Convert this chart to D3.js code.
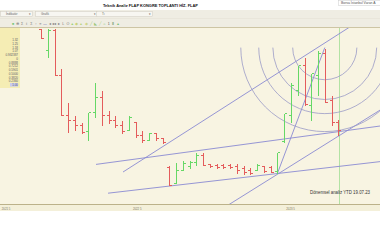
<!DOCTYPE html>
<html>
<head>
<meta charset="utf-8">
<script src="https://cdn.jsdelivr.net/npm/d3@7"></script>
<style>
  body { margin: 0; background: #fff; overflow: hidden; }
  text { font-family: "Liberation Sans", Arial, sans-serif; }
</style>
</head>
<body>
<svg id="chart"></svg>
<script>
// OHLC values (one bar per period)
const opens  = [4.38, 3.85, 4.35, 3.23, 2.23, 2.10, 1.98, 1.83, 2.30, 2.68, 2.23, 2.10, 1.98, 1.85, 2.05,
                1.73, 1.60, 1.78, 1.65, 0.93, 0.53, 0.85, 0.95, 1.05, 1.23, 1.00, 0.98, 0.98, 0.98, 0.95,
                0.90, 0.85, 0.85, 0.95, 0.93, 0.83, 1.58, 2.23, 2.85, 3.48, 2.48, 3.23, 3.78, 2.60, 2.05];
const highs  = [4.38, 4.40, 4.40, 3.40, 2.56, 2.23, 2.06, 2.31, 3.05, 2.85, 2.35, 2.23, 2.10, 2.23, 2.06,
                1.85, 1.81, 1.81, 1.68, 0.98, 1.06, 1.10, 1.10, 1.31, 1.31, 1.03, 1.02, 1.02, 1.03, 1.02,
                0.98, 0.93, 1.03, 0.98, 0.98, 1.31, 2.27, 3.06, 3.48, 3.68, 3.27, 3.85, 3.91, 2.73, 2.13];
const lows   = [4.15, 3.68, 3.23, 2.23, 1.81, 1.85, 1.78, 1.60, 2.18, 1.98, 2.02, 1.93, 1.78, 1.85, 1.68,
                1.56, 1.60, 1.60, 1.53, 0.48, 0.52, 0.85, 0.89, 0.98, 0.98, 0.93, 0.91, 0.89, 0.89, 0.78,
                0.75, 0.75, 0.85, 0.81, 0.81, 0.77, 1.56, 2.06, 2.73, 2.48, 2.10, 2.73, 2.56, 1.98, 1.73];
const closes = [4.15, 4.35, 3.23, 2.23, 2.10, 1.98, 1.81, 2.31, 2.68, 2.23, 2.10, 1.98, 1.83, 2.18, 1.73,
                1.60, 1.78, 1.64, 1.56, 0.48, 0.85, 1.03, 1.06, 1.23, 0.98, 0.96, 0.93, 0.93, 0.92, 0.85,
                0.81, 0.78, 0.98, 0.83, 0.81, 1.29, 2.27, 2.98, 3.48, 2.49, 3.27, 3.77, 2.56, 2.04, 1.85];

// drawn trend lines: [bar index, price] -> [bar index, price]
const trendLines = [
  [[8.14, 0.99], [50.2, 1.95]],
  [[9.92, 0.27], [50.2, 1.06]],
  [[12.14, 0.80], [47.5, 4.62]],
  [[27.67, -0.03], [50.2, 2.35]],
  [[35, 0.77], [42, 3.91]]
];

// fibonacci arcs
const fibCenter = [42, 3.91];
const fibTargetPrice = 1.81;
const fibLevels = [0.382, 0.618, 0.786, 1];

const markerIndex = 44;
const noteText = "Dönemsel analiz YTD 19.07.23";

const tickIndex = [-5.8, 13.6, 36.3];
const tickLabels = ["2021 5", "2022 5", "2023 5"];

const levelLabels = ["1.32", "1.25", "1.18", "1.07", "0.932387", "0", "0.8888", "0.7212",
                     "0.5901", "0.5000", "0.3820", "0.2360", "1.00"];

const titleText = "Teknik Analiz FLAP KONGRE TOPLANTI HİZ. FLAP";
const sourceText = "Borsa İstanbul Varan A";

const W = 380, H = 240;
const chartTop = 28, chartBottom = 204;

const RED = "#e45c5c", GREEN = "#66d866", LINE = "#8a8ad2";

const svg = d3.select("#chart").attr("width", W).attr("height", H);

svg.append("rect").attr("width", W).attr("height", H).attr("fill", "#fff");

// title row
svg.append("text")
  .attr("x", 103).attr("y", 7)
  .attr("font-size", 4.2).attr("font-weight", "bold").attr("fill", "#111")
  .attr("textLength", 95).attr("lengthAdjust", "spacingAndGlyphs")
  .text(titleText);

svg.append("rect")
  .attr("x", 338.5).attr("y", 0.5).attr("width", 44).attr("height", 5)
  .attr("fill", "#fff").attr("stroke", "#ccc").attr("stroke-width", 0.5);
svg.append("text")
  .attr("x", 341).attr("y", 4)
  .attr("font-size", 3.4).attr("fill", "#555")
  .text(sourceText);

// toolbar
svg.append("rect").attr("x", 0).attr("y", 10).attr("width", W).attr("height", 18).attr("fill", "#efede3");
svg.append("line").attr("x1", 0).attr("x2", W).attr("y1", 18.5).attr("y2", 18.5)
  .attr("stroke", "#e2dfd2").attr("stroke-width", 0.5);

const dropdowns = [[0, 33, "İndikatör"], [35, 98, "Grafik"], [96, 153, "Tı"]];
dropdowns.forEach(([x0, x1, label]) => {
  svg.append("rect")
    .attr("x", x0 + 0.5).attr("y", 11.5).attr("width", x1 - x0 - 1).attr("height", 5)
    .attr("fill", "#f7f6f1").attr("stroke", "#cfccc0").attr("stroke-width", 0.5);
  svg.append("text").attr("x", x0 + 6).attr("y", 15.3).attr("font-size", 3).attr("fill", "#666").text(label);
  svg.append("text").attr("x", x1 - 3).attr("y", 15.3).attr("font-size", 3)
    .attr("text-anchor", "middle").attr("fill", "#555").text("▾");
});

const iconGlyphs = ["■", "⊕", "Σ", "ℓ", "Σ", "↑", "≡", "—", "◂", "◂◂", "▸", "L", "O", "▲", "◆", "▴", "◆", "╱", "◣", "╱", "⌂", "1", "Ⅱ", "▲"];
const iconColors = ["#79c779", "#777", "#777", "#777", "#777", "#777", "#777", "#4a4aa0", "#777", "#777", "#777", "#777", "#777",
                    "#9cd27a", "#c9d27a", "#b8d27a", "#cfd68c", "#9cc87a", "#9cc87a", "#a8d27a", "#8cc87a", "#555", "#4a8a4a", "#7ac27a"];
const iconX = d3.scaleLinear().domain([0, iconGlyphs.length - 1]).range([13, 118]);
iconGlyphs.forEach((g, i) => {
  svg.append("text")
    .attr("x", iconX(i)).attr("y", 25)
    .attr("font-size", 3.6).attr("text-anchor", "middle")
    .attr("fill", iconColors[i]).text(g);
});

svg.append("line").attr("x1", 0).attr("x2", W).attr("y1", 27.5).attr("y2", 27.5)
  .attr("stroke", "#cdc5a4").attr("stroke-width", 1);

// chart area
svg.append("rect").attr("x", 0).attr("y", chartTop).attr("width", W).attr("height", chartBottom - chartTop)
  .attr("fill", "#f8f4e2");
svg.append("rect").attr("x", 0).attr("y", chartBottom).attr("width", W).attr("height", 7)
  .attr("fill", "#f4f0da");
svg.append("line").attr("x1", 0).attr("x2", W).attr("y1", chartBottom + 0.5).attr("y2", chartBottom + 0.5)
  .attr("stroke", "#bcb28a").attr("stroke-width", 1);

svg.append("clipPath").attr("id", "plotClip")
  .append("rect").attr("x", 0).attr("y", chartTop).attr("width", W).attr("height", chartBottom - chartTop);

const x = d3.scaleLinear().domain([0, 44]).range([41, 338.3]);
const y = d3.scaleLinear().domain([0, 4.4]).range([chartBottom, chartTop]);

const plot = svg.append("g").attr("clip-path", "url(#plotClip)");

// left level panel
plot.append("rect").attr("x", 0).attr("y", chartTop).attr("width", 20).attr("height", 60).attr("fill", "#f5edb4");
const levelY = d3.scaleLinear().domain([0, levelLabels.length - 1]).range([41, 86]);
plot.append("rect").attr("x", 10).attr("y", levelY(levelLabels.length - 1) - 3)
  .attr("width", 8).attr("height", 3.6).attr("fill", "#c9cbee");
levelLabels.forEach((t, i) => {
  plot.append("text")
    .attr("x", 18).attr("y", levelY(i))
    .attr("font-size", 3).attr("text-anchor", "end").attr("fill", "#5a5a6a")
    .text(t);
});

// marker line at analysis date
plot.append("line")
  .attr("x1", Math.round(x(markerIndex)) + 1.5).attr("x2", Math.round(x(markerIndex)) + 1.5)
  .attr("y1", chartTop).attr("y2", chartBottom)
  .attr("stroke", "#b2e2a4").attr("stroke-width", 1);

// trend lines
plot.selectAll(".trend")
  .data(trendLines)
  .enter()
  .append("line")
  .attr("class", "trend")
  .attr("x1", d => x(d[0][0])).attr("y1", d => y(d[0][1]))
  .attr("x2", d => x(d[1][0])).attr("y2", d => y(d[1][1]))
  .attr("stroke", LINE).attr("stroke-width", 0.9);

// fibonacci arcs (lower half circles)
const cx = x(fibCenter[0]), cy = y(fibCenter[1]);
const baseR = y(fibTargetPrice) - cy;
plot.selectAll(".fib")
  .data(fibLevels)
  .enter()
  .append("path")
  .attr("class", "fib")
  .attr("d", lv => {
    const p = d3.path();
    const r = lv * baseR;
    p.moveTo(cx + r, cy);
    p.arc(cx, cy, r, 0, Math.PI);
    return p.toString();
  })
  .attr("fill", "none")
  .attr("stroke", "#9a9ac6").attr("stroke-width", 0.8);

// OHLC bars
const bars = d3.range(opens.length).map(i => ({
  i, o: opens[i], h: highs[i], l: lows[i], c: closes[i]
}));

const barG = plot.selectAll(".bar")
  .data(bars)
  .enter()
  .append("g")
  .attr("class", "bar")
  .attr("stroke", d => d.c >= d.o ? GREEN : RED)
  .attr("stroke-width", 1)
  .attr("shape-rendering", "crispEdges");

const px = d => Math.round(x(d.i)) + 0.5;
const py = v => Math.round(y(v)) + 0.5;

barG.append("line")
  .attr("x1", px).attr("x2", px)
  .attr("y1", d => py(d.h)).attr("y2", d => py(d.l));
barG.append("line")
  .attr("x1", d => px(d) - 2.5).attr("x2", px)
  .attr("y1", d => py(d.o)).attr("y2", d => py(d.o));
barG.append("line")
  .attr("x1", px).attr("x2", d => px(d) + 2.5)
  .attr("y1", d => py(d.c)).attr("y2", d => py(d.c));

// note
plot.append("text")
  .attr("x", 310).attr("y", 194)
  .attr("font-family", "'Liberation Serif', 'DejaVu Serif', serif")
  .attr("font-size", 5).attr("fill", "#333")
  .attr("textLength", 60).attr("lengthAdjust", "spacingAndGlyphs")
  .text(noteText);

// time axis labels
tickIndex.forEach((t, k) => {
  svg.append("text")
    .attr("x", x(t)).attr("y", 209.5)
    .attr("font-size", 2.8).attr("fill", "#7a7560")
    .text(tickLabels[k]);
});
</script>
</body>
</html>
